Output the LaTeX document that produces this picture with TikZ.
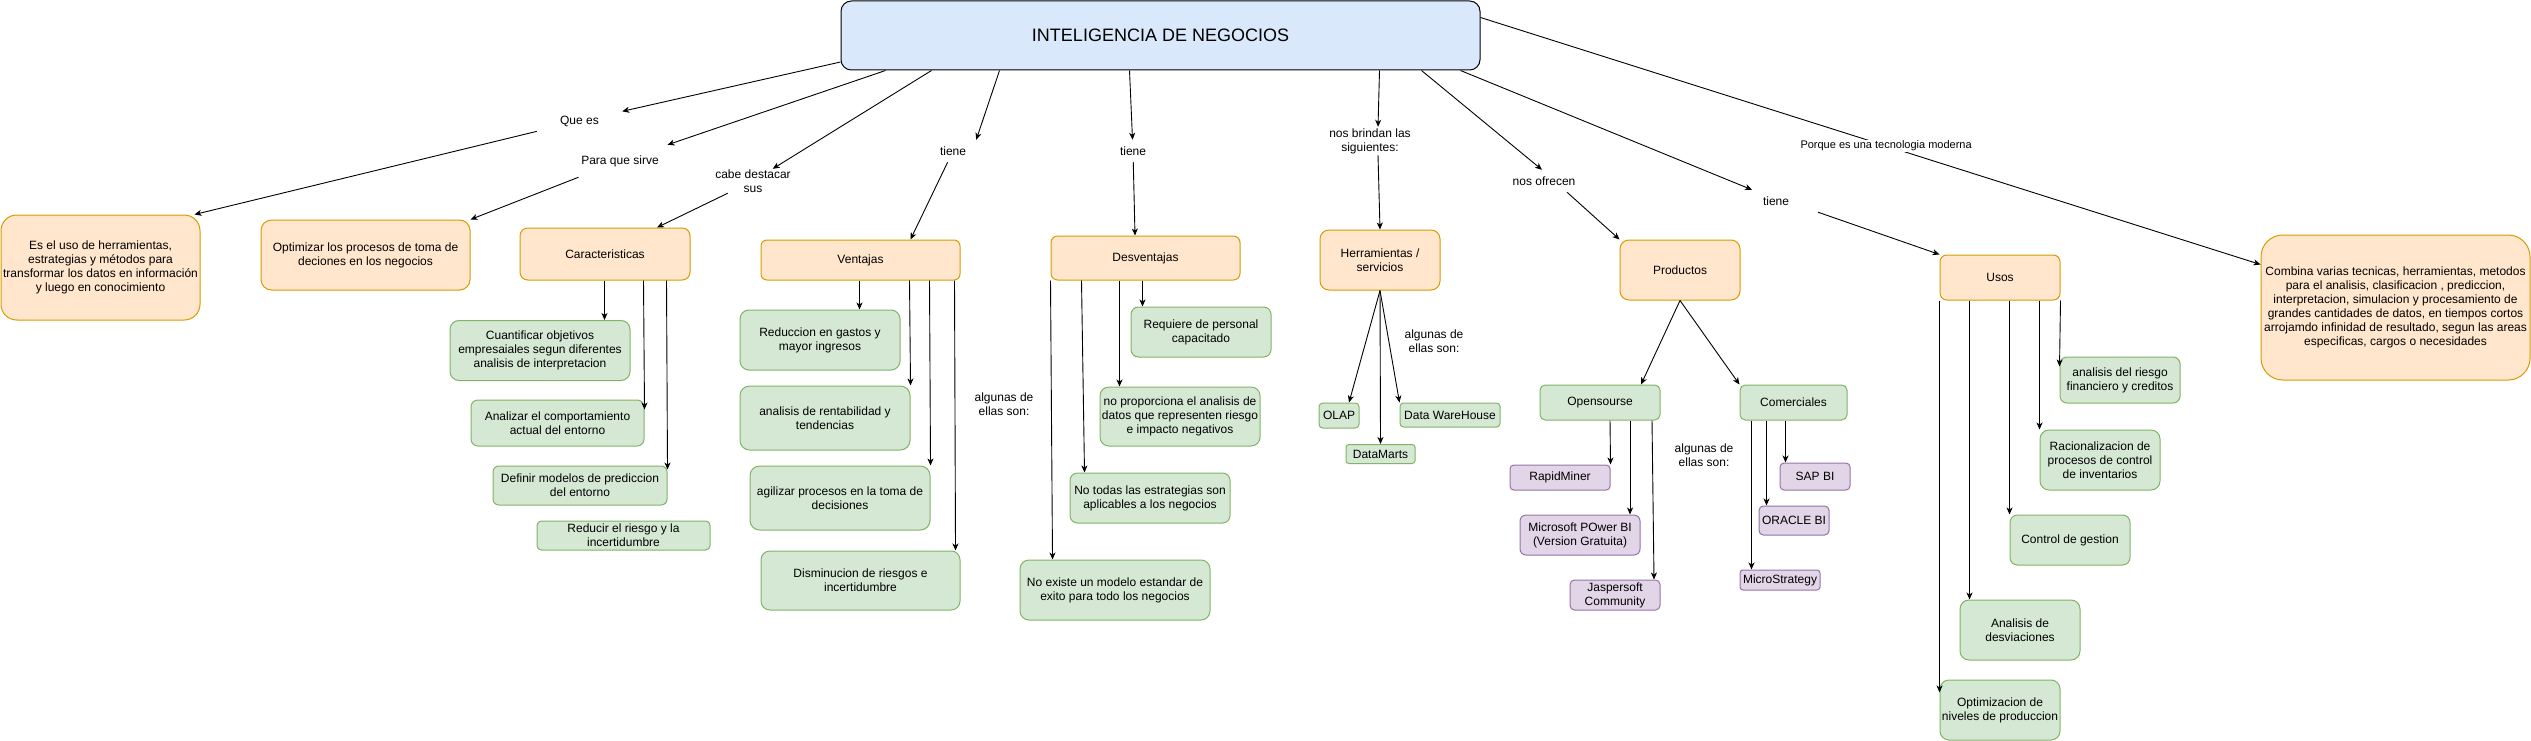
\documentclass[tikz,border=0pt]{standalone}
\usepackage{fontspec}
\setmainfont{Liberation Sans}
\usetikzlibrary{arrows.meta}
\definecolor{orfill}{HTML}{FFE6CC}
\definecolor{ordraw}{HTML}{D79B00}
\definecolor{grfill}{HTML}{D5E8D4}
\definecolor{grdraw}{HTML}{82B366}
\definecolor{pufill}{HTML}{E1D5E7}
\definecolor{pudraw}{HTML}{9673A6}
\definecolor{blfill}{HTML}{DAE8FC}
\newcommand{\cuerpo}{\fontsize{12}{14}\selectfont}
\newcommand{\titulo}{\fontsize{18}{22}\selectfont}
\newcommand{\chica}{\fontsize{11}{13}\selectfont}
\begin{document}
\begin{tikzpicture}[x=1pt,y=-1pt,
    caja/.style args={#1x#2}{minimum width=#1pt, minimum height=#2pt, rounded corners={0.15*min(#1,#2)}, inner sep=0pt, align=center, font=\cuerpo},
    etiq/.style args={#1x#2}{minimum width=#1pt, minimum height=#2pt, inner sep=0pt, align=center, font=\cuerpo},
    azul/.style={fill=blfill, draw=black, line width=1pt},
    naranja/.style={fill=orfill, draw=ordraw, line width=1pt},
    verde/.style={fill=grfill, draw=grdraw, line width=1pt},
    morado/.style={fill=pufill, draw=pudraw, line width=1pt},
    flecha/.style={-{Stealth[length=7pt,width=6pt,inset=2pt]}, line width=0.9pt}]
    \useasboundingbox (0,0) rectangle (2531,741);
    \node[azul, caja=639x69, font=\titulo] (main) at (1160.5,35.5) {INTELIGENCIA DE NEGOCIOS};
    \node[naranja, caja=199x105] (que) at (100.5,267.5) {Es el uso de herramientas,\\estrategias y métodos para\\transformar los datos en información\\y luego en conocimiento};
    \node[naranja, caja=209x70] (sirve) at (365.5,255) {Optimizar los procesos de toma de\\deciones en los negocios};
    \node[naranja, caja=170x52] (car) at (605,254) {Caracteristicas};
    \node[verde, caja=180x60] (cuant) at (540,350.5) {Cuantificar objetivos\\empresaiales segun diferentes\\analisis de interpretacion};
    \node[verde, caja=173x46] (anali) at (557.5,423) {Analizar el comportamiento\\actual del entorno};
    \node[verde, caja=174x39] (defin) at (580,485.5) {Definir modelos de prediccion\\del entorno};
    \node[verde, caja=173x29] (reduc) at (623.5,535.5) {Reducir el riesgo y la\\incertidumbre};
    \node[naranja, caja=199x40] (vent) at (860.5,260) {Ventajas};
    \node[verde, caja=160x60] (reducg) at (820,340) {Reduccion en gastos y\\mayor ingresos};
    \node[verde, caja=170x64] (rent) at (825,418) {analisis de rentabilidad y\\tendencias};
    \node[verde, caja=180x64] (agil) at (840,498) {agilizar procesos en la toma de\\decisiones};
    \node[verde, caja=199x59] (dismi) at (860.5,580.5) {Disminucion de riesgos e\\incertidumbre};
    \node[naranja, caja=189x44] (desv) at (1145.5,258) {Desventajas};
    \node[verde, caja=140x50] (requ) at (1201,332) {Requiere de personal\\capacitado};
    \node[verde, caja=160x59] (nopro) at (1180,416.5) {no proporciona el analisis de\\datos que representen riesgo\\e impacto negativos};
    \node[verde, caja=160x50] (notod) at (1150,498) {No todas las estrategias son\\aplicables a los negocios};
    \node[verde, caja=190x60] (noexi) at (1115,590) {No existe un modelo estandar de\\exito para todo los negocios};
    \node[naranja, caja=120x60] (herr) at (1380,260) {Herramientas /\\servicios};
    \node[verde, caja=40x25] (olap) at (1339,415.5) {OLAP};
    \node[verde, caja=100x24] (dwh) at (1450,415) {Data WareHouse};
    \node[verde, caja=69x19] (dmart) at (1380.5,454) {DataMarts};
    \node[naranja, caja=120x60] (prod) at (1680,270) {Productos};
    \node[verde, caja=120x35] (opens) at (1600,402.5) {Opensourse};
    \node[verde, caja=107x35] (comer) at (1793.5,402.5) {Comerciales};
    \node[morado, caja=100x25] (rapid) at (1560,477.5) {RapidMiner};
    \node[morado, caja=120x40] (msft) at (1580,535) {Microsoft POwer BI\\(Version Gratuita)};
    \node[morado, caja=90x30] (jasp) at (1615,595) {Jaspersoft\\Community};
    \node[morado, caja=70x27] (sap) at (1815,476.5) {SAP BI};
    \node[morado, caja=70x29] (oracle) at (1794,520.5) {ORACLE BI};
    \node[morado, caja=80x20] (micro) at (1780,580) {MicroStrategy};
    \node[naranja, caja=120x45] (usos) at (2000,277.5) {Usos};
    \node[naranja, caja=269x145] (combi) at (2395.5,307.5) {Combina varias tecnicas, herramientas, metodos\\para el analisis, clasificacion , prediccion,\\interpretacion, simulacion y procesamiento de\\grandes cantidades de datos, en tiempos cortos\\arrojamdo infinidad de resultado, segun las areas\\especificas, cargos o necesidades};
    \node[verde, caja=120x46] (riesg) at (2120,380) {analisis del riesgo\\financiero y creditos};
    \node[verde, caja=120x60] (racio) at (2100,460) {Racionalizacion de\\procesos de control\\de inventarios};
    \node[verde, caja=120x50] (contr) at (2070,540) {Control de gestion};
    \node[verde, caja=120x60] (desvi) at (2020,630) {Analisis de\\desviaciones};
    \node[verde, caja=120x60] (optim) at (2000,710) {Optimizacion de\\niveles de produccion};
    \node[etiq=85x24] (lQue) at (579.5,121) {Que es};
    \node[etiq=96x32] (lSirve) at (620,161) {Para que sirve};
    \node[etiq=90x24] (lCabe) at (753,181) {cabe destacar\\sus};
    \node[etiq=46x22] (lTiene1) at (953,151) {tiene};
    \node[etiq=46x22] (lTiene2) at (1133,151) {tiene};
    \node[etiq=100x28] (lBrindan) at (1370,141) {nos brindan las\\siguientes:};
    \node[etiq=70x22] (lOfrecen) at (1544,181) {nos ofrecen};
    \node[etiq=46x22] (lTiene3) at (1776,201) {tiene};
    \node[etiq=60x28] (lAlg1) at (1004,404) {algunas de\\ellas son:};
    \node[etiq=60x28] (lAlg2) at (1434,341) {algunas de\\ellas son:};
    \node[etiq=60x28] (lAlg3) at (1704,455) {algunas de\\ellas son:};
    \draw[flecha] ([yshift=-26.5]main.west) -- (lQue);
    \draw[flecha] (lQue) -- ([xshift=-6]que.north east);
    \draw[flecha] ([xshift=45]main.south west) -- (lSirve);
    \draw[flecha] (lSirve) -- (sirve.north east);
    \draw[flecha] ([xshift=91]main.south west) -- (lCabe);
    \draw[flecha] (lCabe) -- ([xshift=52]car.north);
    \draw[flecha] ([xshift=159]main.south west) -- (lTiene1.north east);
    \draw[flecha] (lTiene1) -- ([xshift=50]vent.north);
    \draw[flecha] ([xshift=289]main.south west) -- (lTiene2);
    \draw[flecha] (lTiene2) -- ([xshift=-10.5]desv.north);
    \draw[flecha] ([xshift=539]main.south west) -- ([xshift=8]lBrindan.north);
    \draw[flecha] ([xshift=8]lBrindan.south) -- (herr.north);
    \draw[flecha] ([xshift=581]main.south west) -- ([xshift=-2]lOfrecen.north);
    \draw[flecha] ([xshift=23]lOfrecen.south) -- (prod.north west);
    \draw[flecha] ([xshift=620]main.south west) -- ([xshift=-24]lTiene3.north);
    \draw[flecha] ([xshift=42]lTiene3.south) -- (usos.north west);
    \draw[flecha] ([yshift=-17]main.north east) -- node[pos=.52, fill=white, inner sep=1pt, font=\chica] (lPorque) {Porque es una tecnologia moderna} ([yshift=-30]combi.north west);
    \draw[flecha] ([xshift=85]car.south west) -- ([xshift=155]cuant.north west);
    \draw[flecha] ([xshift=124]car.south west) -- ([yshift=-10]anali.north east);
    \draw[flecha] ([xshift=147]car.south west) -- ([yshift=-4]defin.north east);
    \draw[flecha] ([xshift=99]vent.south west) -- ([xshift=120]reducg.north west);
    \draw[flecha] ([xshift=149]vent.south west) -- (rent.north east);
    \draw[flecha] ([xshift=169]vent.south west) -- (agil.north east);
    \draw[flecha] ([xshift=194]vent.south west) -- ([xshift=-5]dismi.north east);
    \draw[flecha] ([xshift=92]desv.south west) -- ([xshift=12]requ.north west);
    \draw[flecha] ([xshift=69]desv.south west) -- ([xshift=20]nopro.north west);
    \draw[flecha] ([xshift=31]desv.south west) -- ([xshift=15]notod.north west);
    \draw[flecha] (desv.south west) -- ([xshift=33]noexi.north west);
    \draw[flecha] (herr.south) -- ([xshift=10]olap.north);
    \draw[flecha] (herr.south) -- (dmart.north);
    \draw[flecha] (herr.south) -- (dwh.north west);
    \draw[flecha] (prod.south) -- ([xshift=41]opens.north);
    \draw[flecha] (prod.south) -- (comer.north west);
    \draw[flecha] ([xshift=10]opens.south) -- (rapid.north east);
    \draw[flecha] ([xshift=30]opens.south) -- ([xshift=50]msft.north);
    \draw[flecha] ([xshift=52]opens.south) -- ([xshift=39]jasp.north);
    \draw[flecha] ([xshift=46]comer.south west) -- ([xshift=6]sap.north west);
    \draw[flecha] ([xshift=27]comer.south west) -- ([xshift=8]oracle.north west);
    \draw[flecha] ([xshift=12]comer.south west) -- ([xshift=12]micro.north west);
    \draw[flecha] (usos.south east) -- ([yshift=-10]riesg.north west);
    \draw[flecha] ([xshift=100]usos.south west) -- (racio.north west);
    \draw[flecha] ([xshift=70]usos.south west) -- (contr.north west);
    \draw[flecha] ([xshift=30]usos.south west) -- ([xshift=10]desvi.north west);
    \draw[flecha] (usos.south west) -- ([yshift=-13]optim.north west);
\end{tikzpicture}
\end{document}
